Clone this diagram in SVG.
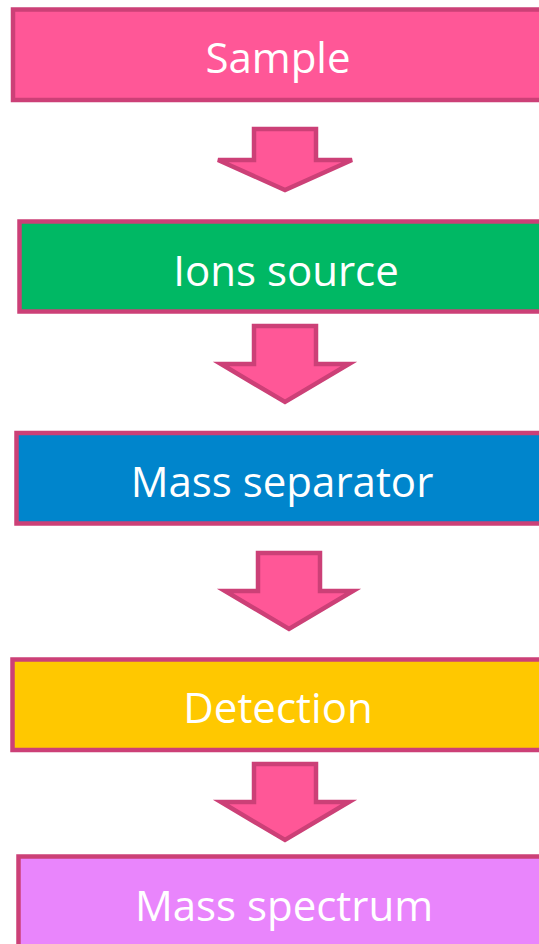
<svg xmlns="http://www.w3.org/2000/svg" width="539" height="944" viewBox="0 0 539 944">
  <style>
    .box { stroke: #CC4077; stroke-width: 4.5; }
    .label { font-family: "Open Sans", "Liberation Sans", sans-serif; font-size: 42px; fill: #FFFFFF; text-anchor: middle; }
    .arrow { fill: #FF5797; stroke: #CC4077; stroke-width: 4.5; stroke-linejoin: miter; }
  </style>
  <rect width="539" height="944" fill="#FFFFFF"/>

  <g id="sample">
    <rect class="box" x="13" y="9.5" width="540" height="90.5" fill="#FF5797"/>
    <text class="label" x="278" y="73">Sample</text>
  </g>

  <g id="ions-source">
    <rect class="box" x="19.5" y="221.5" width="540" height="90" fill="#00B864"/>
    <text class="label" x="286" y="286">Ions source</text>
  </g>

  <g id="mass-separator">
    <rect class="box" x="16.5" y="433" width="540" height="90.5" fill="#0085CC"/>
    <text class="label" x="282" y="497">Mass separator</text>
  </g>

  <g id="detection">
    <rect class="box" x="12.5" y="659.5" width="540" height="90.5" fill="#FFC800"/>
    <text class="label" x="278" y="723">Detection</text>
  </g>

  <g id="mass-spectrum">
    <rect class="box" x="18.5" y="856.5" width="540" height="100" fill="#E985FC"/>
    <text class="label" x="284" y="921">Mass spectrum</text>
  </g>

  <g id="connectors">
    <path class="arrow" d="M254,129 H316 V160 H352 L285,190 L218,160 H254 Z"/>
    <path class="arrow" d="M254,326 H316 V364 H349 L285,402 L221,364 H254 Z"/>
    <path class="arrow" d="M258,553 H320 V591 H353 L289,629 L225,591 H258 Z"/>
    <path class="arrow" d="M254,764 H316 V802 H349 L285,840 L221,802 H254 Z"/>
  </g>
</svg>
